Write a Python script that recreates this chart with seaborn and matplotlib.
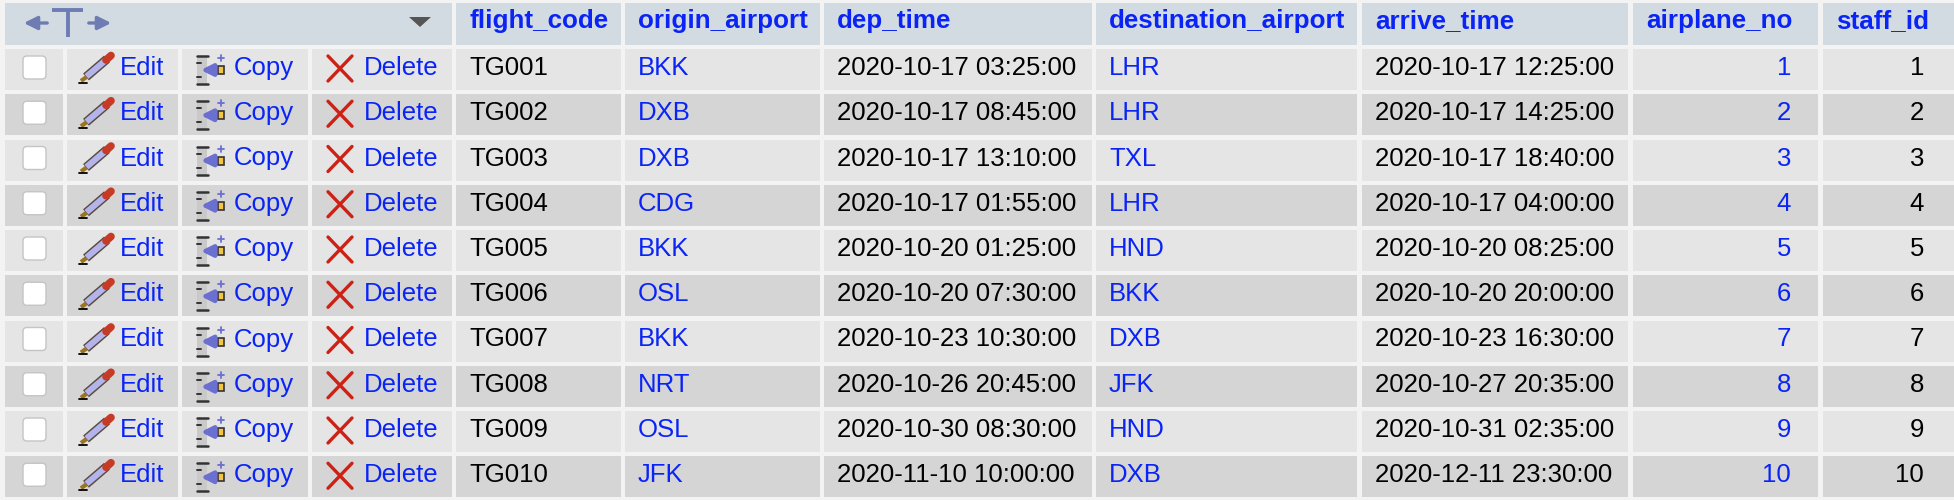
import numpy as np
import pandas as pd
import seaborn as sns
import matplotlib.pyplot as plt
from matplotlib.patches import Rectangle, FancyBboxPatch, Polygon

# table data
flight_code = ['TG001', 'TG002', 'TG003', 'TG004', 'TG005',
               'TG006', 'TG007', 'TG008', 'TG009', 'TG010']
origin_airport = ['BKK', 'DXB', 'DXB', 'CDG', 'BKK', 'OSL', 'BKK', 'NRT', 'OSL', 'JFK']
dep_time = ['2020-10-17 03:25:00', '2020-10-17 08:45:00', '2020-10-17 13:10:00',
            '2020-10-17 01:55:00', '2020-10-20 01:25:00', '2020-10-20 07:30:00',
            '2020-10-23 10:30:00', '2020-10-26 20:45:00', '2020-10-30 08:30:00',
            '2020-11-10 10:00:00']
destination_airport = ['LHR', 'LHR', 'TXL', 'LHR', 'HND', 'BKK', 'DXB', 'JFK', 'HND', 'DXB']
arrive_time = ['2020-10-17 12:25:00', '2020-10-17 14:25:00', '2020-10-17 18:40:00',
               '2020-10-17 04:00:00', '2020-10-20 08:25:00', '2020-10-20 20:00:00',
               '2020-10-23 16:30:00', '2020-10-27 20:35:00', '2020-10-31 02:35:00',
               '2020-12-11 23:30:00']
airplane_no = [1, 2, 3, 4, 5, 6, 7, 8, 9, 10]
staff_id = [1, 2, 3, 4, 5, 6, 7, 8, 9, 10]

columns = ['flight_code', 'origin_airport', 'dep_time', 'destination_airport',
           'arrive_time', 'airplane_no', 'staff_id']

df = pd.DataFrame({
    'flight_code': flight_code,
    'origin_airport': origin_airport,
    'dep_time': dep_time,
    'destination_airport': destination_airport,
    'arrive_time': arrive_time,
    'airplane_no': airplane_no,
    'staff_id': staff_id,
})

# layout (pixels)
action_edges = [(5, 63), (67, 178), (182, 308), (312, 452)]
col_edges = [(456, 621), (625, 820), (824, 1092), (1096, 1357),
             (1362, 1628), (1633, 1818), (1823, 1954)]
link_cols = {'origin_airport', 'destination_airport', 'airplane_no'}
right_cols = {'airplane_no': 27, 'staff_id': 30}
header_top, header_h = 3, 42
row_top0, row_pitch, row_h = 49, 45.25, 41

sns.set_theme(style='white')
plt.rcParams['font.family'] = ['Liberation Sans', 'DejaVu Sans']

BLUE = '#0a24f5'
ODD, EVEN, HEAD, BG = '#e5e5e5', '#d5d5d5', '#d3dbe2', '#f3f3f3'
FS = 18.5

fig = plt.figure(figsize=(19.54, 5.0), dpi=100)
fig.patch.set_facecolor(BG)
ax = fig.add_axes([0, 0, 1, 1])
ax.set_xlim(0, 1954)
ax.set_ylim(500, 0)
ax.axis('off')

# header
ax.add_patch(Rectangle((5, header_top), 452 - 5, header_h, color=HEAD, lw=0))
for (x0, x1), name in zip(col_edges, columns):
    ax.add_patch(Rectangle((x0, header_top), x1 - x0, header_h, color=HEAD, lw=0))
    ax.text(x0 + 13, header_top + 25, name, color=BLUE, fontsize=FS + 0.2,
            fontweight='bold', va='baseline', ha='left')

# "<-T->" icon and dropdown triangle
ic = '#6e7cb4'
ax.plot([52, 83], [10, 10], color=ic, lw=2.8, solid_capstyle='butt')
ax.plot([67.5, 67.5], [10, 37], color=ic, lw=2.8, solid_capstyle='butt')
ax.annotate('', xy=(21, 23), xytext=(50, 23),
            arrowprops=dict(arrowstyle='-|>', color=ic, lw=2.4, mutation_scale=20))
ax.annotate('', xy=(114, 23), xytext=(86, 23),
            arrowprops=dict(arrowstyle='-|>', color=ic, lw=2.4, mutation_scale=20))
ax.add_patch(Polygon([[409, 17], [431, 17], [420, 27]], closed=True, color='#555555', lw=0))

for i, row in df.iterrows():
    y0 = row_top0 + i * row_pitch
    fill = ODD if i % 2 == 0 else EVEN
    for x0, x1 in action_edges + col_edges:
        ax.add_patch(Rectangle((x0, y0), x1 - x0, row_h, color=fill, lw=0))

    # checkbox
    ax.add_patch(FancyBboxPatch((23, y0 + 7), 23, 23,
                                boxstyle='round,pad=0,rounding_size=4',
                                facecolor='white', edgecolor='#c4c4c4', lw=1))

    # pencil
    ax.plot([86, 107], [y0 + 28, y0 + 10], color='#5a4a40', lw=6.5, solid_capstyle='butt')
    ax.plot([86.5, 106.5], [y0 + 27.5, y0 + 10.5], color='#b4b4ec', lw=4.4, solid_capstyle='butt')
    ax.plot([106, 111], [y0 + 11, y0 + 6.5], color='#c63a26', lw=5.5, solid_capstyle='round')
    ax.plot([81, 86.5], [y0 + 32, y0 + 28], color='#9a7420', lw=3, solid_capstyle='butt')
    ax.plot([79, 87], [y0 + 33.5, y0 + 33.5], color='black', lw=1.3)
    ax.text(120, y0 + 26, 'Edit', color=BLUE, fontsize=FS, va='baseline', ha='left')

    # copy icon
    ax.add_patch(Rectangle((197, y0 + 8), 10, 27, facecolor='#c9c9c9', edgecolor='none'))
    ax.plot([197, 208], [y0 + 7, y0 + 7], color='#333333', lw=1.8)
    ax.plot([197, 208], [y0 + 35, y0 + 35], color='#333333', lw=1.8)
    ax.plot([197, 201], [y0 + 14, y0 + 14], color='#333333', lw=1.4)
    ax.plot([197, 201], [y0 + 28, y0 + 28], color='#333333', lw=1.4)
    ax.annotate('', xy=(198, y0 + 21), xytext=(216, y0 + 21),
                arrowprops=dict(arrowstyle='-|>', color='#6b6fd0', lw=3.2, mutation_scale=17))
    ax.add_patch(Rectangle((218, y0 + 17), 6, 8, facecolor='#f6c445', edgecolor='#333333', lw=1.2))
    ax.plot([221, 221], [y0 + 6, y0 + 12], color='#6b6fd0', lw=1.3)
    ax.plot([218, 224], [y0 + 9, y0 + 9], color='#6b6fd0', lw=1.3)
    ax.text(234, y0 + 26, 'Copy', color=BLUE, fontsize=FS, va='baseline', ha='left')

    # delete icon
    ax.plot([328, 352], [y0 + 7, y0 + 32], color='#cc2114', lw=2.4, solid_capstyle='round')
    ax.plot([328, 352], [y0 + 32, y0 + 7], color='#cc2114', lw=2.4, solid_capstyle='round')
    ax.text(364, y0 + 26, 'Delete', color=BLUE, fontsize=FS, va='baseline', ha='left')

    # data cells
    for (x0, x1), name in zip(col_edges, columns):
        color = BLUE if name in link_cols else 'black'
        val = str(row[name])
        if name in right_cols:
            ax.text(x1 - right_cols[name], y0 + 26, val, color=color, fontsize=FS,
                    va='baseline', ha='right')
        else:
            ax.text(x0 + 13, y0 + 26, val, color=color, fontsize=FS,
                    va='baseline', ha='left')

fig.savefig('out.png', dpi=100, facecolor=fig.get_facecolor())
